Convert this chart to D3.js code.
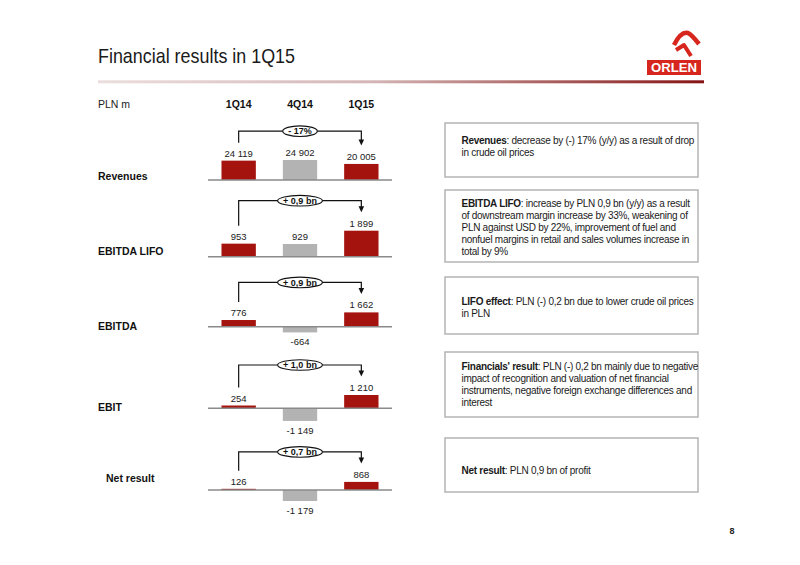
<!DOCTYPE html>
<html>
<head>
<meta charset="utf-8">
<style>
body { margin: 0; background: #fff; }
svg { display: block; font-family: Arial, "Liberation Sans", sans-serif; }
.note { font-size: 10px; fill: #1a1a1a; letter-spacing: -0.28px; }
.val { font-size: 9.5px; fill: #1a1a1a; text-anchor: middle; }
.rowlab { font-size: 10.5px; font-weight: bold; fill: #111; }
</style>
</head>
<body>
<svg width="800" height="565"></svg>
<script src="https://d3js.org/d3.v7.min.js"></script>
<script>

// data
var periods = ["1Q14", "4Q14", "1Q15"];
var metrics = ["Revenues", "EBITDA LIFO", "EBITDA", "EBIT", "Net result"];
var revenues = [24119, 24902, 20005];
var ebitdaLifo = [953, 929, 1899];
var ebitda = [776, -664, 1662];
var ebit = [254, -1149, 1210];
var netResult = [126, -1179, 868];
var changeLabels = ["- 17%", "+ 0,9 bn", "+ 0,9 bn", "+ 1,0 bn", "+ 0,7 bn"];

var noteLeads = ["Revenues", "EBITDA LIFO", "LIFO effect", "Financials' result", "Net result"];
var noteLines = [
  [": decrease by (-) 17% (y/y) as a result of drop", "in crude oil prices"],
  [": increase by PLN 0,9 bn (y/y) as a result", "of downstream margin increase by 33%, weakening of",
   "PLN against USD by 22%, improvement of fuel and", "nonfuel margins in retail and sales volumes increase in", "total by 9%"],
  [": PLN (-) 0,2 bn due to lower crude oil prices", "in PLN"],
  [": PLN (-) 0,2 bn mainly due to negative", "impact of recognition and valuation of net financial",
   "instruments, negative foreign exchange differences and", "interest"],
  [": PLN 0,9 bn of profit"]
];

var series = [revenues, ebitdaLifo, ebitda, ebit, netResult];

// layout
var baseY = [180, 256.7, 326.7, 408.3, 490];
var barMaxPx = [20, 26, 14.3, 13.3, 11];
var labelPos = [[98, 180], [98, 254.5], [98, 330], [98, 411], [106, 482]];
var boxTop = [123, 190, 277, 352, 438];
var boxBottom = [177, 262, 334, 417, 492];
var noteY = [144, 207, 305, 370, 473.5];

var red = "#a5130e", grey = "#b3b3b3", logoRed = "#d7261e";

var fmt = d3.formatLocale({decimal: ",", thousands: " ", grouping: [3], currency: ["", ""], minus: "-"}).format(",d");

var svg = d3.select("svg");

// title + rule
svg.append("text")
  .attr("x", 98).attr("y", 63)
  .attr("font-size", 21).attr("fill", "#1a1a1a")
  .attr("textLength", 197).attr("lengthAdjust", "spacingAndGlyphs")
  .text("Financial results in 1Q15");

var grad = svg.append("defs").append("linearGradient").attr("id", "rule");
grad.append("stop").attr("offset", "0%").attr("stop-color", "#ecdede");
grad.append("stop").attr("offset", "45%").attr("stop-color", "#d4b6b6");
grad.append("stop").attr("offset", "100%").attr("stop-color", "#861414");
svg.append("rect").attr("x", 98).attr("y", 80.3).attr("width", 606).attr("height", 3)
  .attr("fill", "url(#rule)");

// logo
var logo = svg.append("g");
logo.append("path")
  .attr("d", "M674,45 Q681,31 688,33 Q692,35 699,44")
  .attr("fill", "none").attr("stroke", logoRed).attr("stroke-width", 4.5)
  .attr("stroke-linejoin", "round");
logo.append("path")
  .attr("d", "M676,50 L684,45 L691,56")
  .attr("fill", "none").attr("stroke", logoRed).attr("stroke-width", 4)
  .attr("stroke-linejoin", "round");
logo.append("circle").attr("cx", 681).attr("cy", 40).attr("r", 1.2).attr("fill", "#fff");
logo.append("rect").attr("x", 647).attr("y", 60).attr("width", 54).attr("height", 15).attr("fill", logoRed);
logo.append("text").attr("x", 674).attr("y", 72).attr("text-anchor", "middle")
  .attr("font-size", 12).attr("font-weight", 900).attr("fill", "#fff")
  .attr("textLength", 46).attr("lengthAdjust", "spacingAndGlyphs")
  .text("ORLEN");

// header row
svg.append("text").attr("x", 98).attr("y", 108).attr("font-size", 10.5).attr("fill", "#222").text("PLN m");

var x = d3.scaleBand().domain(periods).range([208, 392]).paddingInner(0.44).paddingOuter(0.22);
var cx = function(p) { return x(p) + x.bandwidth() / 2; };

svg.selectAll(".head").data(periods).enter().append("text")
  .attr("class", "head")
  .attr("x", cx).attr("y", 108)
  .attr("text-anchor", "middle").attr("font-size", 10.5).attr("font-weight", "bold").attr("fill", "#111")
  .text(function(d) { return d; });

// row labels
svg.selectAll(".rowlab").data(metrics).enter().append("text")
  .attr("class", "rowlab")
  .attr("x", function(d, i) { return labelPos[i][0]; })
  .attr("y", function(d, i) { return labelPos[i][1]; })
  .text(function(d) { return d; });

// panels
series.forEach(function(vals, i) {
  var y = d3.scaleLinear().domain([0, d3.max(vals, Math.abs)]).range([0, barMaxPx[i]]);
  var g = svg.append("g").attr("transform", "translate(0," + baseY[i] + ")");
  var rows = vals.map(function(v, j) { return {p: periods[j], v: v, j: j}; });

  g.selectAll("rect").data(rows).enter().append("rect")
    .attr("x", function(d) { return x(d.p); })
    .attr("y", function(d) { return d.v >= 0 ? -y(d.v) : 0; })
    .attr("width", x.bandwidth())
    .attr("height", function(d) { return y(Math.abs(d.v)); })
    .attr("fill", function(d) { return d.j === 1 ? grey : red; });

  g.append("line").attr("x1", 208).attr("x2", 392).attr("y1", 0).attr("y2", 0)
    .attr("stroke", "#8a8a8a").attr("stroke-width", 1.5);

  g.selectAll(".val").data(rows).enter().append("text")
    .attr("class", "val")
    .attr("x", function(d) { return cx(d.p); })
    .attr("y", function(d) { return d.v >= 0 ? -y(d.v) - 4 : y(-d.v) + 13; })
    .text(function(d) { return fmt(d.v); });

  // change bracket 1st -> 3rd column
  var x0 = cx(periods[0]), x2 = cx(periods[2]);
  var leftTop = -y(Math.max(vals[0], 0)) - 18;
  var tip = -y(Math.max(vals[2], 0)) - 18.5;
  var hz = Math.min(leftTop, tip) - 11.5;
  g.append("path")
    .attr("d", "M" + x0 + "," + leftTop + "V" + hz + "H" + x2 + "V" + (tip - 5))
    .attr("fill", "none").attr("stroke", "#111").attr("stroke-width", 1.2);
  g.append("path")
    .attr("d", "M" + (x2 - 2.8) + "," + (tip - 6) + "L" + (x2 + 2.8) + "," + (tip - 6) + "L" + x2 + "," + tip + "Z")
    .attr("fill", "#111");

  var mx = (x0 + x2) / 2;
  var ell = g.append("ellipse").attr("cx", mx).attr("cy", hz).attr("ry", 5.3)
    .attr("fill", "#fff").attr("stroke", "#111").attr("stroke-width", 1.1);
  var lab = g.append("text").attr("x", mx).attr("y", hz).attr("dy", "0.35em")
    .attr("text-anchor", "middle").attr("font-size", 9).attr("font-weight", "bold").attr("fill", "#111")
    .text(changeLabels[i]);
  ell.attr("rx", lab.node().getComputedTextLength() / 2 + 5.5);
});

// comment boxes
noteLeads.forEach(function(lead, i) {
  svg.append("rect").attr("x", 445).attr("y", boxTop[i]).attr("width", 253)
    .attr("height", boxBottom[i] - boxTop[i])
    .attr("fill", "#fff").attr("stroke", "#b4b4b4").attr("stroke-width", 1.5);
  var t = svg.append("text").attr("class", "note").attr("x", 461.5).attr("y", noteY[i]);
  noteLines[i].forEach(function(line, k) {
    if (k === 0) {
      t.append("tspan").attr("font-weight", "bold").text(lead);
      t.append("tspan").text(line);
    } else {
      t.append("tspan").attr("x", 461.5).attr("dy", 12).text(line);
    }
  });
});

svg.append("text").attr("x", 732).attr("y", 534).attr("text-anchor", "middle")
  .attr("font-size", 9).attr("font-weight", "bold").attr("fill", "#222").text("8");

</script>
</body>
</html>
